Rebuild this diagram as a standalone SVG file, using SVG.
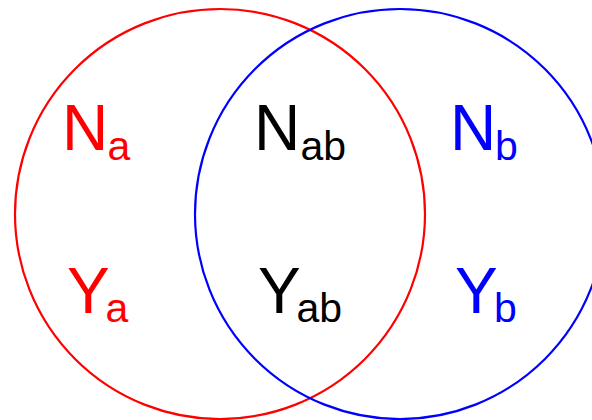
<svg xmlns="http://www.w3.org/2000/svg" width="592" height="420" viewBox="0 0 592 420">
<style>
.c{fill:none;stroke-width:2.2}
.m{font-family:"Liberation Sans",Arial,sans-serif;font-size:64px}
.s{font-size:41px}
.red{fill:#ff0000}.blue{fill:#0000ff}.blk{fill:#000}
</style>
<rect width="592" height="420" fill="#fff"/>
<g id="circles">
<circle id="setA" class="c" cx="220" cy="214" r="205" stroke="#ff0000"/>
<circle id="setB" class="c" cx="400" cy="214" r="205" stroke="#0000ff"/>
</g>
<g id="Na"><text class="m red" x="62" y="150">N<tspan class="s" x="107.5" y="160">a</tspan></text></g>
<g id="Ya"><text class="m red" x="67" y="313">Y<tspan class="s" x="105.5" y="322">a</tspan></text></g>
<g id="Nab"><text class="m blk" x="254" y="150">N<tspan class="s" x="300.5" y="160">ab</tspan></text></g>
<g id="Yab"><text class="m blk" x="258" y="313">Y<tspan class="s" x="296.5" y="322">ab</tspan></text></g>
<g id="Nb"><text class="m blue" x="450" y="150">N<tspan class="s" x="495" y="160">b</tspan></text></g>
<g id="Yb"><text class="m blue" x="455" y="313">Y<tspan class="s" x="494" y="322">b</tspan></text></g>
</svg>
